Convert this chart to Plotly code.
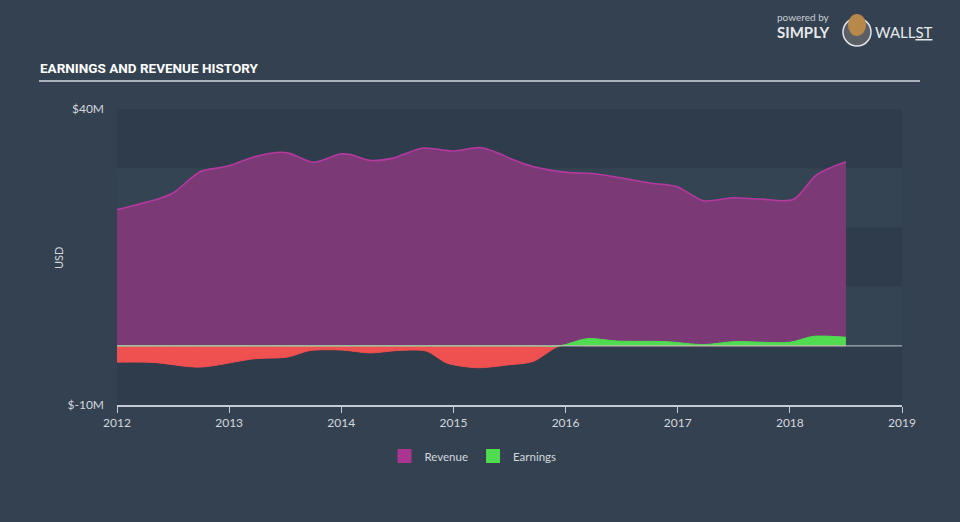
import numpy as np
import plotly.graph_objects as go

# ---- data (USD millions) ----
rev_x = [2012.0, 2012.38, 2012.5, 2012.74, 2012.92, 2013.0, 2013.22, 2013.45, 2013.54,
         2013.75, 2013.99, 2014.08, 2014.26, 2014.46, 2014.55, 2014.73, 2015.0, 2015.24,
         2015.42, 2015.5, 2015.71, 2016.01, 2016.24, 2016.51, 2016.75, 2016.99, 2017.23,
         2017.49, 2017.73, 2018.03, 2018.24, 2018.5]
revenue = [23.0, 24.9, 25.8, 29.4, 30.1, 30.4, 31.9, 32.7, 32.5,
           31.0, 32.4, 32.3, 31.3, 31.7, 32.3, 33.4, 32.9, 33.5,
           32.4, 31.7, 30.3, 29.3, 29.1, 28.3, 27.5, 26.9, 24.5,
           25.0, 24.8, 24.7, 28.9, 31.1]

earn_x = [2012.0, 2012.32, 2012.74, 2013.22, 2013.52, 2013.72, 2013.99, 2014.26, 2014.5,
          2014.76, 2014.94, 2015.21, 2015.5, 2015.71, 2015.95, 2016.19, 2016.46, 2016.9,
          2017.23, 2017.5, 2018.0, 2018.21, 2018.5]
earnings = [-2.76, -2.8, -3.6, -2.2, -1.9, -0.8, -0.7, -1.2, -0.8,
            -0.9, -2.9, -3.7, -3.2, -2.65, 0.0, 1.2, 0.8, 0.7,
            0.2, 0.7, 0.6, 1.6, 1.45]

x_ticks = [2012, 2013, 2014, 2015, 2016, 2017, 2018, 2019]
y_ticks = [40, -10]
y_tick_labels = ["$40M", "$-10M"]

earn_arr = np.array(earnings)
earn_neg = np.minimum(earn_arr, 0)
earn_pos = np.maximum(earn_arr, 0)

TXT = "#d3d8de"
FONT = "Lato, 'Open Sans', sans-serif"
TITLE_FONT = "'Liberation Sans Narrow', Roboto, sans-serif"

REV_LEG = "#a9358f"
EARN_COL = "#4fdc50"

fig = go.Figure()

fig.add_trace(go.Scatter(
    x=rev_x, y=revenue, name="Revenue", mode="lines",
    line=dict(color="#b5399f", width=1.6, shape="spline", smoothing=0.8),
    fill="tozeroy", fillcolor="#7b3a76", hoverinfo="skip", showlegend=False,
))
fig.add_trace(go.Scatter(
    x=earn_x, y=earn_neg, name="Earnings (loss)", mode="lines",
    line=dict(color="#ef4f4f", width=1, shape="spline", smoothing=0.8),
    fill="tozeroy", fillcolor="#ef5050", showlegend=False, hoverinfo="skip",
))
fig.add_trace(go.Scatter(
    x=earn_x, y=earn_pos, name="Earnings", mode="lines",
    line=dict(color=EARN_COL, width=1, shape="spline", smoothing=0.8),
    fill="tozeroy", fillcolor=EARN_COL, hoverinfo="skip", showlegend=False,
))
# legend entries (square swatches)
fig.add_trace(go.Scatter(x=[None], y=[None], mode="markers", name="Revenue",
                         marker=dict(symbol="square", size=14, color=REV_LEG)))
fig.add_trace(go.Scatter(x=[None], y=[None], mode="markers", name="Earnings",
                         marker=dict(symbol="square", size=14, color=EARN_COL)))

shapes = []
# alternating horizontal bands
for y0, y1 in [(30, 40), (10, 20), (-10, 0)]:
    shapes.append(dict(type="rect", xref="paper", yref="y", x0=0, x1=1, y0=y0, y1=y1,
                       fillcolor="#2e3c4b", line=dict(width=0), layer="below"))
# zero line
shapes.append(dict(type="line", xref="paper", yref="y", x0=0, x1=1, y0=0, y1=0,
                   line=dict(color="#c3c9d0", width=1.2), layer="above", opacity=0.8))
# title underline
shapes.append(dict(type="line", xref="paper", yref="paper",
                   x0=(39 - 117) / 785, x1=(920 - 117) / 785,
                   y0=(405 - 81) / 296, y1=(405 - 81) / 296,
                   line=dict(color="#a9b1ba", width=2)))

annotations = [
    dict(text="<b>EARNINGS AND REVENUE HISTORY</b>", xref="paper", yref="paper",
         x=(38 - 117) / 785, y=(405 - 68) / 296, xanchor="left", yanchor="middle",
         showarrow=False, font=dict(family=TITLE_FONT, size=13.5, color="#ffffff")),
    dict(text="USD", xref="paper", yref="paper", x=(58 - 117) / 785, y=(405 - 258) / 296,
         textangle=-90, showarrow=False, xanchor="center", yanchor="middle",
         font=dict(family=FONT, size=11, color=TXT)),
    dict(text="powered by", xref="paper", yref="paper", x=(775 - 117) / 785, y=(405 - 17) / 296,
         xanchor="left", yanchor="middle", showarrow=False,
         font=dict(family=FONT, size=10, color="#c9ced4")),
    dict(text="<b>SIMPLY</b>", xref="paper", yref="paper", x=(775 - 117) / 785, y=(405 - 32) / 296,
         xanchor="left", yanchor="middle", showarrow=False,
         font=dict(family=FONT, size=15, color="#e6e9ec")),
    dict(text="WALL<u>ST</u>", xref="paper", yref="paper", x=(873 - 117) / 785, y=(405 - 32) / 296,
         xanchor="left", yanchor="middle", showarrow=False,
         font=dict(family=FONT, size=15, color="#e6e9ec")),
]
# simple badge for the logo
shapes.append(dict(type="circle", xref="paper", yref="paper",
                   x0=(843 - 117) / 785, x1=(871 - 117) / 785,
                   y0=(405 - 46) / 296, y1=(405 - 18) / 296,
                   fillcolor="#5a5f66", line=dict(color="#e0e3e6", width=1.5)))
shapes.append(dict(type="circle", xref="paper", yref="paper",
                   x0=(848 - 117) / 785, x1=(866 - 117) / 785,
                   y0=(405 - 36) / 296, y1=(405 - 14) / 296,
                   fillcolor="#b8874a", line=dict(width=0)))

fig.update_layout(
    width=960, height=522,
    margin=dict(l=117, r=58, t=109, b=117),
    paper_bgcolor="#334151",
    plot_bgcolor="#344453",
    font=dict(family=FONT, color=TXT, size=11),
    showlegend=True,
    legend=dict(orientation="h", x=(473 - 117) / 785, xanchor="center",
                y=(405 - 456) / 296, yanchor="middle",
                font=dict(family=FONT, size=11.5, color=TXT),
                bgcolor="rgba(0,0,0,0)", itemwidth=30, tracegroupgap=0),
    shapes=shapes,
    annotations=annotations,
    xaxis=dict(range=[2012, 2019], tickvals=x_ticks, ticktext=[str(t) for t in x_ticks],
               showgrid=False, zeroline=False, showline=True, linecolor="#c3cbd4", linewidth=1.5,
               ticks="outside", ticklen=6, tickcolor="#c3cbd4", tickwidth=1,
               tickfont=dict(family=FONT, size=12, color=TXT), fixedrange=True),
    yaxis=dict(range=[-10, 40], tickvals=y_ticks, ticktext=y_tick_labels,
               showgrid=False, zeroline=False, showline=False, ticks="",
               ticklabelstandoff=12,
               tickfont=dict(family=FONT, size=12, color=TXT), fixedrange=True),
)

fig.write_html("out.html", config={"displayModeBar": False})
